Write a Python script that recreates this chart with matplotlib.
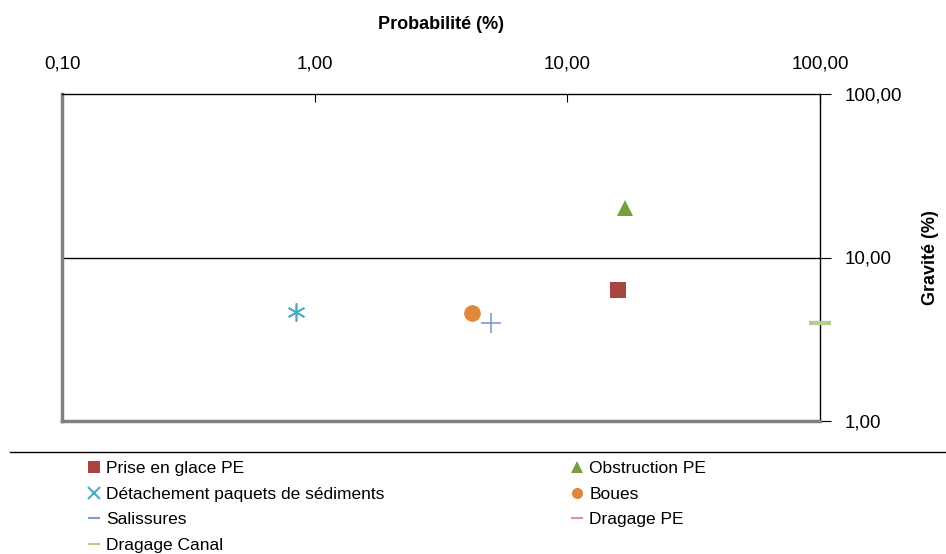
import matplotlib.pyplot as plt
from matplotlib.lines import Line2D
from matplotlib.ticker import FixedLocator, NullLocator

plt.rcParams['font.family'] = ['Liberation Sans', 'DejaVu Sans']

# données (probabilité %, gravité %)
names = ["Prise en glace PE", "Obstruction PE", "Détachement paquets de sédiments",
         "Boues", "Salissures", "Dragage PE", "Dragage Canal"]
proba = [15.9, 16.9, 0.84, 4.2, 5.0, 100.0, 100.0]
gravite = [6.3, 20.0, 4.65, 4.6, 4.0, 3.95, 3.95]
colors = ["#a94442", "#77a03d", "#4bacc6", "#e0883a", "#7f9ccd", "#d99694", "#b3cf8e"]
markers = ["s", "^", (6, 2, 0), "o", "+", "_", "_"]
leg_markers = ["s", "^", "x", "o", "_", "_", "_"]
sizes = [11, 11, 13, 12, 14, 16, 16]
edge = [0, 0, 1.2, 0, 1.2, 3, 3]

xticks = [0.1, 1, 10, 100]
yticks = [1, 10, 100]

def fmt(v):
    return f"{v:.2f}".replace(".", ",")

fig = plt.figure(figsize=(9.46, 5.54), dpi=100)
ax = fig.add_axes([62/946, 1-421/554, 758/946, 327/554])

for i in range(len(names)):
    ax.plot(proba[i], gravite[i], linestyle="none", marker=markers[i], color=colors[i],
            markersize=sizes[i], markeredgewidth=edge[i], clip_on=False, zorder=3)

ax.set_xscale("log")
ax.set_yscale("log")
ax.set_xlim(0.1, 100)
ax.set_ylim(1, 100)

ax.xaxis.set_major_locator(FixedLocator(xticks))
ax.xaxis.set_minor_locator(NullLocator())
ax.yaxis.set_major_locator(FixedLocator(yticks))
ax.yaxis.set_minor_locator(NullLocator())
ax.set_xticklabels([fmt(v) for v in xticks])
ax.set_yticklabels([fmt(v) for v in yticks])

ax.xaxis.tick_top()
ax.xaxis.set_label_position("top")
ax.yaxis.tick_right()
ax.yaxis.set_label_position("right")
ax.tick_params(axis="x", direction="in", length=6, width=0.8, pad=15.5, labelsize=13.5)
ax.tick_params(axis="y", direction="out", length=8, width=0.8, pad=10, labelsize=13.5)

ax.set_xlabel("Probabilité (%)", fontsize=13, fontweight="bold", labelpad=19)
ax.set_ylabel("Gravité (%)", fontsize=13, fontweight="bold", labelpad=14)

ax.spines["left"].set_color("#808080")
ax.spines["left"].set_linewidth(2.5)
ax.spines["bottom"].set_color("#808080")
ax.spines["bottom"].set_linewidth(2.5)
ax.spines["top"].set_linewidth(1)
ax.spines["right"].set_linewidth(1)

ax.axhline(10, color="black", linewidth=1, zorder=1)

# séparateur de légende
fig.add_artist(Line2D([10/946, 1], [1-452/554, 1-452/554], color="black", linewidth=1))

handles = [Line2D([], [], linestyle="none", marker=leg_markers[i], color=colors[i],
                  markersize=8 if leg_markers[i] != "_" else 9,
                  markeredgewidth=0 if leg_markers[i] in "s^o" else 1.5)
           for i in range(len(names))]
# légende remplie ligne par ligne
order = [0, 2, 4, 6, 1, 3, 5]
fig.legend([handles[i] for i in order], [names[i] for i in order],
           loc="upper left", bbox_to_anchor=(80/946, 1-454/554),
           ncol=2, frameon=False, fontsize=12.5, handlelength=0.8, handletextpad=0.3,
           columnspacing=10.7, labelspacing=0.6, borderaxespad=0)

fig.savefig("out.png", dpi=100)
